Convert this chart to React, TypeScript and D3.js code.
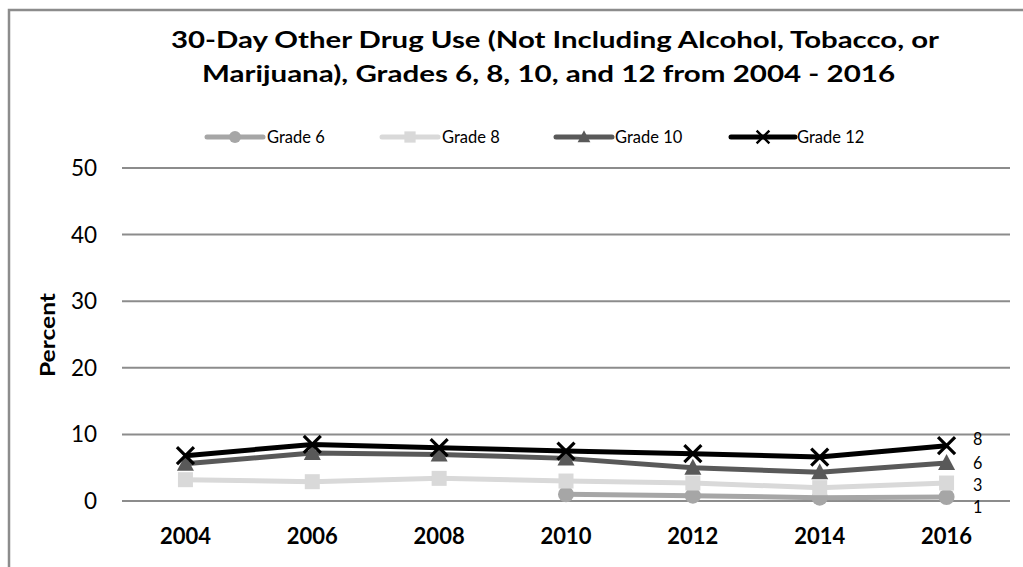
import React from "react";
import * as d3 from "d3";

const years = ["2004", "2006", "2008", "2010", "2012", "2014", "2016"];
const grade6: (number | null)[] = [null, null, null, 1.0, 0.8, 0.5, 0.6];
const grade8: (number | null)[] = [3.2, 2.9, 3.4, 3.0, 2.7, 2.0, 2.7];
const grade10: (number | null)[] = [5.6, 7.2, 7.0, 6.4, 5.0, 4.3, 5.7];
const grade12: (number | null)[] = [6.8, 8.5, 8.0, 7.5, 7.1, 6.6, 8.3];
const yTicks = [0, 10, 20, 30, 40, 50];
const seriesNames = ["Grade 6", "Grade 8", "Grade 10", "Grade 12"];

const W = 1023;
const H = 567;
const FONT = "Lato, 'Open Sans', sans-serif";

type Series = { name: string; values: (number | null)[]; color: string; marker: string };

const series: Series[] = [
  { name: seriesNames[0], values: grade6, color: "#a6a6a6", marker: "circle" },
  { name: seriesNames[1], values: grade8, color: "#d9d9d9", marker: "square" },
  { name: seriesNames[2], values: grade10, color: "#595959", marker: "triangle" },
  { name: seriesNames[3], values: grade12, color: "#000000", marker: "x" },
];

function Marker({ type, x, y, color }: { type: string; x: number; y: number; color: string }) {
  if (type === "circle") return <circle cx={x} cy={y} r={8} fill={color} />;
  if (type === "square") return <rect x={x - 7.5} y={y - 7.5} width={15} height={15} fill={color} />;
  if (type === "triangle")
    return <path d={`M${x},${y - 9}L${x + 8.5},${y + 7}L${x - 8.5},${y + 7}Z`} fill={color} />;
  const s = 8.5;
  return (
    <path
      d={`M${x - s},${y - s}L${x + s},${y + s}M${x - s},${y + s}L${x + s},${y - s}`}
      stroke={color}
      strokeWidth={3.2}
      fill="none"
    />
  );
}

export default function App() {
  const x = d3.scaleBand<string>().domain(years).range([122, 1010]);
  const y = d3.scaleLinear().domain([0, 50]).range([501, 168]);
  const cx = (yr: string) => (x(yr) as number) + x.bandwidth() / 2;

  const line = d3
    .line<{ yr: string; v: number | null }>()
    .defined((d) => d.v !== null)
    .x((d) => cx(d.yr))
    .y((d) => y(d.v as number));

  const legendItems = [
    { lx: 207, tx: 267 },
    { lx: 382, tx: 442 },
    { lx: 556, tx: 615 },
    { lx: 731, tx: 797 },
  ];
  const legendY = 137;

  return (
    <svg
      width={W}
      height={H}
      style={{ position: "absolute", left: 0, top: 0, background: "#fff" }}
      fontFamily={FONT}
    >
      <rect x={0} y={0} width={W} height={H} fill="#fff" />
      <path d={`M9,${H}V10H${W}`} stroke="#8c8c8c" strokeWidth={2.5} fill="none" />

      <text x={555} y={48} textAnchor="middle" fontSize={22.5} fontWeight={700} textLength={768} lengthAdjust="spacingAndGlyphs">
        30-Day Other Drug Use (Not Including Alcohol, Tobacco, or
      </text>
      <text x={548.5} y={82} textAnchor="middle" fontSize={22.5} fontWeight={700} textLength={693} lengthAdjust="spacingAndGlyphs">
        Marijuana), Grades 6, 8, 10, and 12 from 2004 - 2016
      </text>

      {series.map((s, i) => {
        const it = legendItems[i];
        const len = s.marker === "x" ? 64 : 56;
        return (
          <g key={s.name}>
            <line x1={it.lx} x2={it.lx + len} y1={legendY} y2={legendY} stroke={s.color} strokeWidth={5} strokeLinecap="round" />
            <g transform={`translate(${it.lx + len / 2},${legendY}) scale(0.75)`}>
              <Marker type={s.marker} x={0} y={0} color={s.color} />
            </g>
            <text x={it.tx} y={legendY + 6} fontSize={16.5} fill="#000">
              {s.name}
            </text>
          </g>
        );
      })}

      {yTicks.map((t) => (
        <g key={t}>
          <line x1={122} x2={1010} y1={y(t)} y2={y(t)} stroke="#8c8c8c" strokeWidth={2} />
          <text x={97} y={y(t) + 8} textAnchor="end" fontSize={22.5} fill="#000">
            {t}
          </text>
        </g>
      ))}

      <text
        transform={`translate(55,335) rotate(-90)`}
        textAnchor="middle"
        fontSize={20}
        fontWeight={700}
        textLength={84}
        lengthAdjust="spacingAndGlyphs"
      >
        Percent
      </text>

      {years.map((yr) => (
        <text key={yr} x={cx(yr)} y={544} textAnchor="middle" fontSize={22} fontWeight={700}>
          {yr}
        </text>
      ))}

      {series.map((s) => {
        const pts = years.map((yr, i) => ({ yr, v: s.values[i] }));
        return (
          <g key={s.name}>
            <path d={line(pts) || ""} stroke={s.color} strokeWidth={5} fill="none" strokeLinejoin="round" />
            {pts
              .filter((p) => p.v !== null)
              .map((p) => (
                <Marker key={p.yr} type={s.marker} x={cx(p.yr)} y={y(p.v as number)} color={s.color} />
              ))}
          </g>
        );
      })}

      {[
        { s: series[3], cy: 439 },
        { s: series[2], cy: 463 },
        { s: series[1], cy: 485 },
        { s: series[0], cy: 507 },
      ].map(({ s, cy }) => (
        <text key={s.name} x={973} y={cy + 6.5} fontSize={18} fill="#000" transform={`translate(${973 * 0.1},0) scale(0.9,1)`}>
          {d3.format(".0f")(Math.round(s.values[s.values.length - 1] as number))}
        </text>
      ))}
    </svg>
  );
}
